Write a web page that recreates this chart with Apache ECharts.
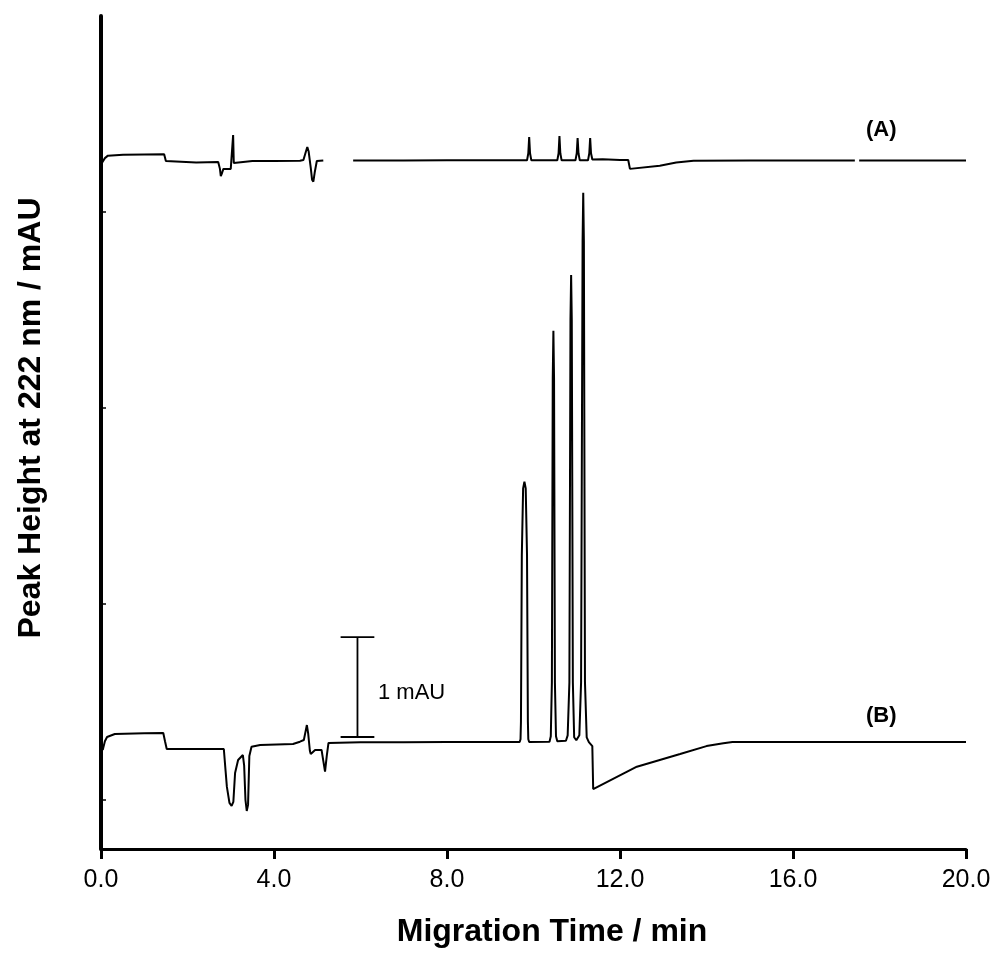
<!DOCTYPE html>
<html>
<head>
<meta charset="utf-8">
<script src="https://cdn.jsdelivr.net/npm/echarts@6/dist/echarts.min.js"></script>
<style>html,body{margin:0;padding:0;background:#fff;}#c{width:998px;height:954px;}</style>
</head>
<body>
<div id="c"></div>
<script>
// Trace (A): [time / min, signal (arbitrary offset units)]
const traceA = [
  [0.02, 6.50], [0.09, 6.55], [0.16, 6.575], [0.51, 6.585], [1.0, 6.588], [1.46, 6.59],
  [1.50, 6.52], [1.53, 6.505], [2.2, 6.505], [2.71, 6.51], [2.75, 6.44], [2.77, 6.367],
  [2.80, 6.40], [2.83, 6.44], [3.0, 6.44], [3.04, 6.43], [3.055, 6.786], [3.07, 6.50],
  [3.08, 6.52], [3.5, 6.52], [4.0, 6.52], [4.60, 6.523], [4.68, 6.53], [4.74, 6.62],
  [4.77, 6.663], [4.80, 6.62], [4.85, 6.45], [4.88, 6.33], [4.91, 6.309], [4.94, 6.40],
  [4.99, 6.52], [5.14, 6.526], null,
  [5.83, 6.526], [7.0, 6.526], [8.0, 6.527], [9.0, 6.527], [9.85, 6.527], [9.88, 6.60],
  [9.90, 6.765], [9.92, 6.60], [9.95, 6.527], [10.55, 6.527], [10.58, 6.60], [10.60, 6.776],
  [10.62, 6.60], [10.65, 6.527], [10.97, 6.527], [11.00, 6.60], [11.02, 6.755], [11.04, 6.60],
  [11.07, 6.527], [11.26, 6.527], [11.29, 6.60], [11.31, 6.755], [11.33, 6.60], [11.36, 6.535],
  [11.6, 6.537], [12.0, 6.53], [12.19, 6.53], [12.23, 6.44], [12.25, 6.421], [12.92, 6.472],
  [13.3, 6.505], [13.7, 6.524], [15.0, 6.526], [17.43, 6.526], null,
  [17.53, 6.526], [20.0, 6.526]
];
// Trace (B)
const traceB = [
  [0.04, 0.51], [0.09, 0.60], [0.14, 0.643], [0.32, 0.673], [1.0, 0.68], [1.44, 0.684],
  [1.48, 0.60], [1.52, 0.52], [2.0, 0.52], [2.84, 0.52], [2.88, 0.30], [2.91, 0.136],
  [2.97, -0.03], [3.02, -0.061], [3.06, -0.02], [3.10, 0.276], [3.17, 0.408], [3.28, 0.459],
  [3.31, 0.35], [3.34, 0.0], [3.37, -0.112], [3.40, -0.05], [3.43, 0.45], [3.48, 0.544],
  [3.68, 0.561], [4.44, 0.571], [4.60, 0.595], [4.69, 0.612], [4.73, 0.70], [4.76, 0.765],
  [4.79, 0.68], [4.83, 0.50], [4.85, 0.469], [4.95, 0.51], [5.10, 0.51], [5.14, 0.40],
  [5.18, 0.289], [5.22, 0.45], [5.26, 0.582], [6.0, 0.59], [7.0, 0.59], [8.0, 0.592],
  [9.68, 0.592], [9.70, 0.62], [9.71, 0.80], [9.73, 2.5], [9.76, 3.18], [9.79, 3.248],
  [9.82, 3.18], [9.85, 2.5], [9.87, 0.80], [9.88, 0.62], [9.90, 0.592], [10.37, 0.595],
  [10.40, 0.65], [10.425, 1.2], [10.445, 4.3], [10.46, 4.789], [10.475, 4.3], [10.495, 1.2],
  [10.52, 0.65], [10.55, 0.60], [10.75, 0.605], [10.79, 0.66], [10.83, 1.2], [10.855, 4.9],
  [10.87, 5.357], [10.885, 4.9], [10.91, 1.2], [10.94, 0.64], [10.99, 0.61], [11.06, 0.66],
  [11.10, 1.2], [11.135, 5.7], [11.15, 6.197], [11.165, 5.7], [11.19, 1.2], [11.23, 0.64],
  [11.28, 0.59], [11.32, 0.585], [11.36, 0.55], [11.38, 0.112], [12.39, 0.34], [13.39, 0.469],
  [14.0, 0.55], [14.39, 0.578], [14.6, 0.592], [17.0, 0.592], [20.0, 0.592]
];
// Scale bar (1 mAU)
const scaleBar = [
  [5.54, 1.663], [6.32, 1.663], null,
  [5.93, 1.663], [5.93, 0.643], null,
  [5.54, 0.643], [6.32, 0.643]
];
const xTicks = [0, 4, 8, 12, 16, 20];
const yTicks = [0, 2, 4, 6];
const xTitle = 'Migration Time / min';
const yTitle = 'Peak Height at 222 nm / mAU';
const labelA = '(A)';
const labelB = '(B)';
const scaleLabel = '1 mAU';

const chart = echarts.init(document.getElementById('c'));
const lineSeries = (data, w) => ({
  type: 'line', data: data, showSymbol: false, symbol: 'none', connectNulls: false,
  lineStyle: { color: '#000', width: w }, animation: false, silent: true
});
chart.setOption({
  backgroundColor: '#fff',
  animation: false,
  grid: { left: 101, right: 32, top: 16, bottom: 105, containLabel: false, outerBoundsMode: 'none' },
  xAxis: {
    type: 'value', min: 0, max: 20, interval: 4,
    axisLine: { show: true, onZero: false, lineStyle: { color: '#000', width: 3 } },
    axisTick: { show: true, inside: false, length: 10, lineStyle: { color: '#000', width: 3 }, customValues: xTicks },
    axisLabel: { show: true, margin: 19, fontFamily: 'Liberation Sans, Arial', fontSize: 25, color: '#000',
      customValues: xTicks, formatter: v => v.toFixed(1) },
    splitLine: { show: false }
  },
  yAxis: {
    type: 'value', min: -0.5, max: 8,
    axisLine: { show: true, onZero: false, lineStyle: { color: '#000', width: 4 } },
    axisTick: { show: true, inside: true, length: 5, lineStyle: { color: '#000', width: 1.5 }, customValues: yTicks },
    axisLabel: { show: false },
    splitLine: { show: false }
  },
  series: [lineSeries(traceA, 2), lineSeries(traceB, 2), lineSeries(scaleBar, 1.8)],
  graphic: [
    { type: 'text', x: 552, y: 932, style: { text: xTitle, font: 'bold 32px Liberation Sans, Arial', fill: '#000', textAlign: 'center', textVerticalAlign: 'middle' } },
    { type: 'text', x: 31, y: 418, rotation: Math.PI / 2, style: { text: yTitle, font: 'bold 32px Liberation Sans, Arial', fill: '#000', textAlign: 'center', textVerticalAlign: 'middle' } },
    { type: 'text', left: 866, top: 119, style: { text: labelA, font: 'bold 22px Liberation Sans, Arial', fill: '#000' } },
    { type: 'text', left: 866, top: 705, style: { text: labelB, font: 'bold 22px Liberation Sans, Arial', fill: '#000' } },
    { type: 'text', left: 378, top: 682, style: { text: scaleLabel, font: '22px Liberation Sans, Arial', fill: '#000' } }
  ]
});
</script>
</body>
</html>
